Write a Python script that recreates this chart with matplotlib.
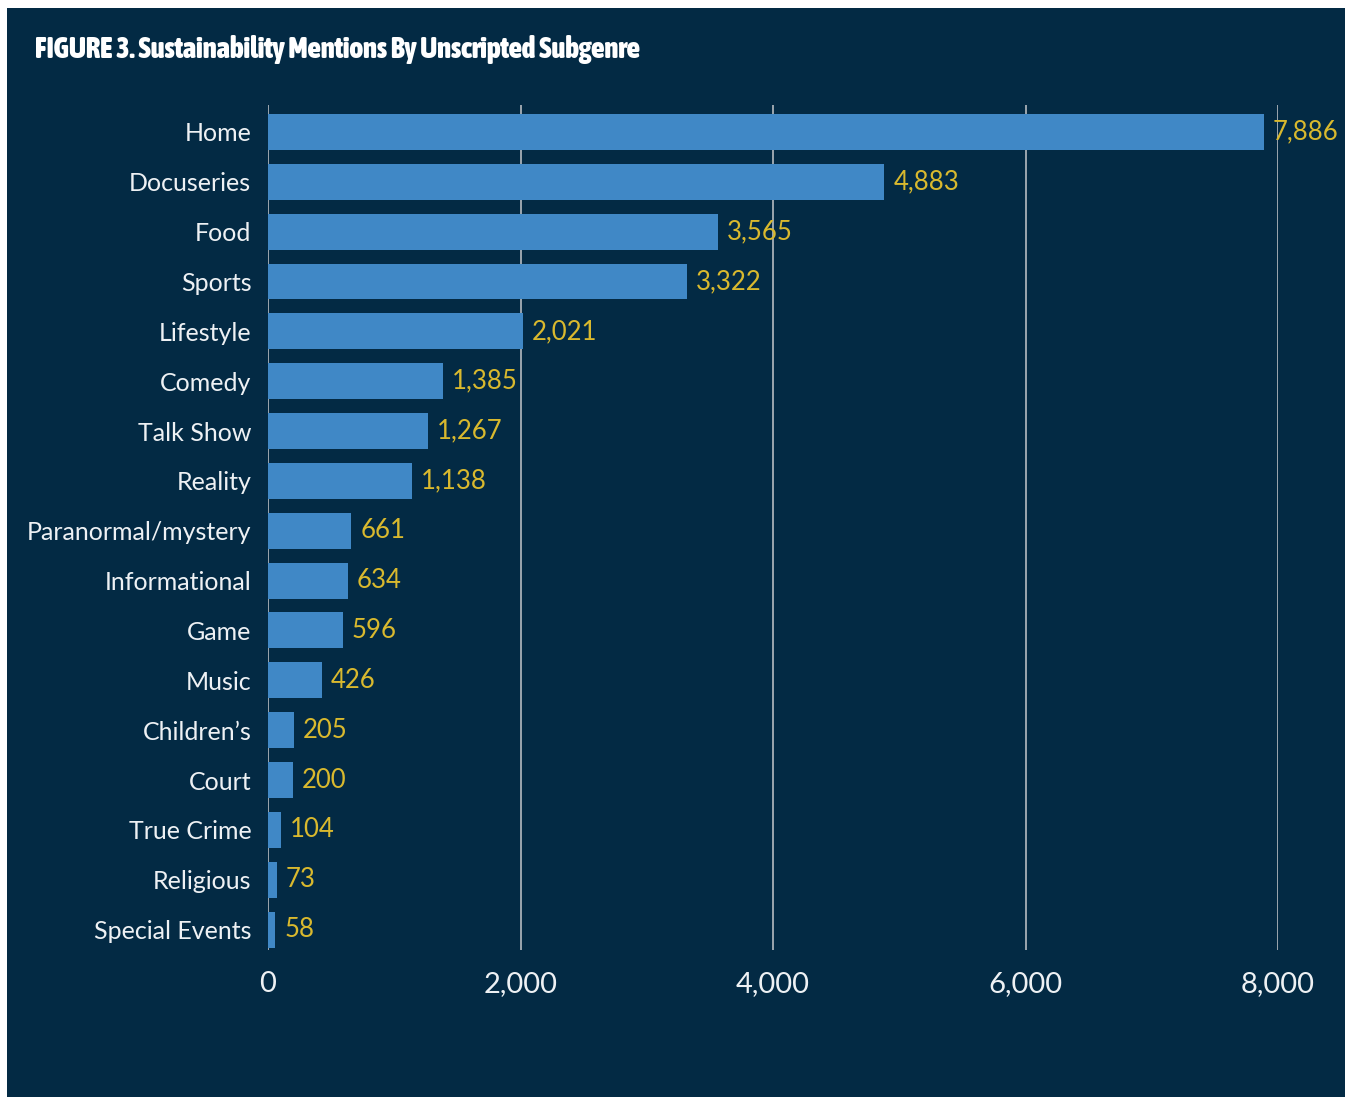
import matplotlib.pyplot as plt
from matplotlib import font_manager
import matplotlib.patheffects as pe

# --------- Data ---------
subgenres = ['Home', 'Docuseries', 'Food', 'Sports', 'Lifestyle', 'Comedy',
             'Talk Show', 'Reality', 'Paranormal/mystery', 'Informational',
             'Game', 'Music', "Children\u2019s", 'Court', 'True Crime',
             'Religious', 'Special Events']
mentions = [7886, 4883, 3565, 3322, 2021, 1385, 1267, 1138, 661, 634,
            596, 426, 205, 200, 104, 73, 58]
x_ticks = [0, 2000, 4000, 6000, 8000]
# ------------------------

BG = '#032a44'
BAR = '#4088c6'
VALUE = '#d9b92e'
GRID = '#a7afb7'
LABEL = '#eef1f4'


# narrow face for the heading, taken straight from its file
def is_narrow(f):
    return ('Condensed' in f.name or 'Narrow' in f.name
            or f.stretch in ('condensed', 'semi-condensed', 'extra-condensed'))


def is_bold(f):
    if isinstance(f.weight, int):
        return f.weight >= 600
    return f.weight in ('bold', 'heavy', 'black', 'semibold', 'demibold', 'extra bold')


fonts = [f for f in font_manager.fontManager.ttflist
         if is_narrow(f) and 'DejaVu' not in f.name
         and 'Italic' not in f.fname and 'Oblique' not in f.fname]
bold = [f for f in fonts if is_bold(f)]
title_effects = []
if bold:
    title_font = font_manager.FontProperties(fname=bold[0].fname, size=20.6)
elif fonts:
    title_font = font_manager.FontProperties(fname=fonts[0].fname, size=20.6)
    # thicken the regular narrow face a little
    title_effects = [pe.withStroke(linewidth=1.4, foreground='white')]
else:
    title_font = font_manager.FontProperties(family='DejaVu Sans', weight='bold', size=20.6)

fig = plt.figure(figsize=(13.45, 10.97), dpi=100)
fig.patch.set_facecolor('white')

# navy panel behind everything
panel = fig.add_axes([7 / 1345, 0, 1 - 7 / 1345, 1 - 8 / 1097])
panel.set_facecolor(BG)
panel.set_xticks([])
panel.set_yticks([])
for s in panel.spines.values():
    s.set_visible(False)

ax = fig.add_axes([268 / 1345, 1 - 950 / 1097, (1278 - 268) / 1345, (950 - 105) / 1097])
ax.set_facecolor('none')

pos = list(range(len(subgenres)))
ax.barh(pos, mentions, height=0.72, color=BAR, zorder=2)

for x in x_ticks:
    ax.axvline(x, color=GRID, linewidth=1.3, zorder=1)

for p, v in zip(pos, mentions):
    ax.text(v + 70, p, f'{v:,}', va='center', ha='left', color=VALUE,
            fontsize=18.5, family='Lato', zorder=3)

ax.set_xlim(0, 8000)
ax.set_ylim(len(subgenres) - 1 + 0.41, -0.54)
ax.set_yticks(pos)
ax.set_yticklabels(subgenres, family='Lato', fontsize=18, color=LABEL)
ax.set_xticks(x_ticks)
ax.set_xticklabels([f'{t:,}' for t in x_ticks], family='Lato', fontsize=21, color=LABEL)
ax.tick_params(axis='y', length=0, pad=12)
ax.tick_params(axis='x', length=0, pad=15)
for s in ax.spines.values():
    s.set_visible(False)

fig.text(35 / 1345, 1 - 50 / 1097, 'FIGURE 3. Sustainability Mentions By Unscripted Subgenre',
         color='white', va='center', ha='left', fontproperties=title_font,
         path_effects=title_effects)

fig.savefig('out.png', dpi=100, facecolor=fig.get_facecolor())
